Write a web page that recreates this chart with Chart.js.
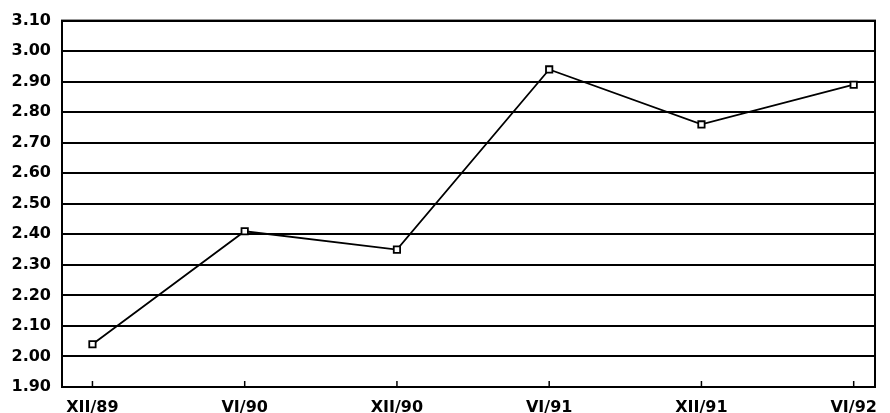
<!DOCTYPE html>
<html lang="en">
<head>
    <meta charset="UTF-8">
    <title>Line chart XII/89 - VI/92</title>
    <script src="https://cdn.jsdelivr.net/npm/chart.js"></script>
    <style>
        html, body { margin: 0; padding: 0; background: #fff; }
        #wrap { width: 890px; height: 413px; }
    </style>
</head>
<body>
    <div id="wrap"><canvas id="chart"></canvas></div>

    <script>
        // Data
        const periods = ['XII/89', 'VI/90', 'XII/90', 'VI/91', 'XII/91', 'VI/92'];
        const values = [2.04, 2.41, 2.35, 2.94, 2.76, 2.89];
        const yTicks = [1.9, 2.0, 2.1, 2.2, 2.3, 2.4, 2.5, 2.6, 2.7, 2.8, 2.9, 3.0, 3.1];

        const labelFont = { family: "'DejaVu Sans', sans-serif", size: 16, weight: 'bold' };

        // frame + small inward tick marks on the bottom axis
        const framePlugin = {
            id: 'frame',
            afterDraw(chart) {
                const { ctx, chartArea: a, scales } = chart;
                ctx.save();
                ctx.strokeStyle = '#000';
                ctx.lineWidth = 2;
                ctx.strokeRect(a.left, a.top, a.right - a.left, a.bottom - a.top);
                ctx.lineWidth = 1.5;
                periods.forEach((p, i) => {
                    const x = scales.x.getPixelForValue(i);
                    ctx.beginPath();
                    ctx.moveTo(x, a.bottom);
                    ctx.lineTo(x, a.bottom - 6);
                    ctx.stroke();
                });
                ctx.restore();
            }
        };

        new Chart(document.getElementById('chart'), {
            type: 'line',
            data: {
                datasets: [{
                    data: values.map((v, i) => ({ x: i, y: v })),
                    borderColor: '#000',
                    borderWidth: 1.8,
                    tension: 0,
                    pointStyle: 'rect',
                    pointRadius: 4.5,
                    pointBorderWidth: 1.8,
                    pointBackgroundColor: '#fff',
                    pointBorderColor: '#000'
                }]
            },
            options: {
                responsive: true,
                maintainAspectRatio: false,
                animation: false,
                layout: { padding: { top: 16, right: 15, left: 0, bottom: 0 } },
                plugins: { legend: { display: false }, tooltip: { enabled: false } },
                scales: {
                    x: {
                        type: 'linear',
                        min: -0.2,
                        max: 5.14,
                        afterBuildTicks(scale) {
                            scale.ticks = periods.map((p, i) => ({ value: i }));
                        },
                        afterFit(scale) { scale.height = 26; },
                        grid: { display: false },
                        border: { display: false },
                        ticks: {
                            color: '#000',
                            font: labelFont,
                            padding: 3,
                            maxRotation: 0,
                            autoSkip: false,
                            callback: (v) => periods[v]
                        }
                    },
                    y: {
                        min: 1.9,
                        max: 3.1,
                        afterBuildTicks(scale) {
                            scale.ticks = yTicks.map(v => ({ value: v }));
                        },
                        afterFit(scale) { scale.width = 62; },
                        grid: { color: '#000', lineWidth: 2, drawTicks: false },
                        border: { display: false },
                        ticks: {
                            color: '#000',
                            font: labelFont,
                            padding: 11,
                            callback: (v) => v.toFixed(2)
                        }
                    }
                }
            },
            plugins: [framePlugin]
        });
    </script>
</body>
</html>
